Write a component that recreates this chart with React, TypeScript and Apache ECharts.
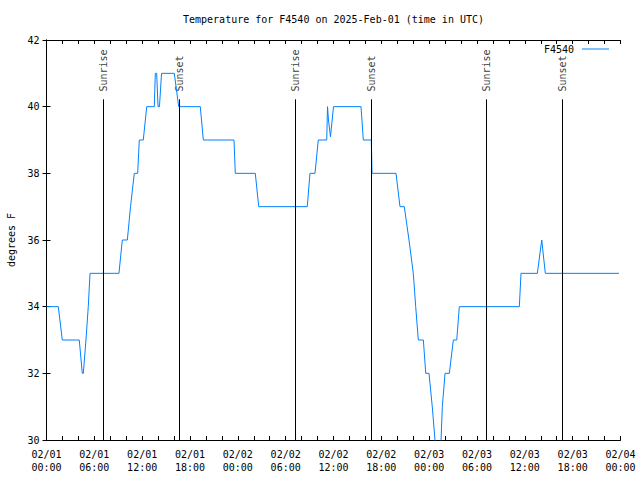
import { useEffect, useRef } from "react";
import * as echarts from "echarts";

// hours since 2025-02-01 00:00 UTC
const hours = [0, 1.48, 1.98, 4.11, 4.49, 4.62, 4.95, 5.24, 5.46, 9.09, 9.51, 10.14, 10.54, 11.01, 11.44, 11.64, 12.14, 12.57, 13.52, 13.65, 13.82, 13.99, 14.17, 14.43, 16.03, 16.58, 19.29, 19.67, 23.52, 23.68, 26.19, 26.62, 32.71, 33.05, 33.68, 34.09, 35.15, 35.25, 35.37, 35.62, 36.0, 39.45, 39.74, 40.74, 40.79, 40.83, 43.84, 44.34, 44.88, 45.47, 46.01, 46.31, 46.64, 47.27, 47.57, 47.98, 48.39, 48.73, 48.98, 49.3, 49.49, 49.65, 49.99, 50.53, 51.03, 51.46, 51.78, 59.31, 59.52, 61.57, 62.12, 62.57, 71.81];
const temps = [34, 34, 33, 33, 32, 32, 33, 34, 35, 35, 36, 36, 37, 38, 38, 39, 39, 40, 40, 41, 41, 40, 40, 41, 41, 40, 40, 39, 39, 38, 38, 37, 37, 38, 38, 39, 39, 40, 39.6, 39.1, 40, 40, 39, 39, 38.5, 38, 38, 37, 37, 36, 35, 34, 33, 33, 32, 32, 31, 30, 29.5, 29.5, 30, 31, 32, 32, 33, 33, 34, 34, 35, 35, 36, 35, 35];

const sunTimes = [7.12, 16.66, 31.26, 40.79, 55.22, 64.7];
const sunLabels = ["Sunrise", "Sunset", "Sunrise", "Sunset", "Sunrise", "Sunset"];
const SUN_LINE_TOP = 40.22;
const SUN_LABEL_BASE = 40.44;

const dayLabels = ["02/01", "02/01", "02/01", "02/01", "02/02", "02/02", "02/02", "02/02", "02/03", "02/03", "02/03", "02/03", "02/04"];
const timeLabels = ["00:00", "06:00", "12:00", "18:00", "00:00", "06:00", "12:00", "18:00", "00:00", "06:00", "12:00", "18:00", "00:00"];

const FONT = "DejaVu Sans Mono";

export default function App() {
  const ref = useRef<HTMLDivElement>(null);
  useEffect(() => {
    const chart = echarts.init(ref.current!, null, { renderer: "svg" });
    const xLabel = (v: number) => {
      if (Math.abs(v % 6) > 1e-6) return "";
      const i = Math.round(v / 6);
      return dayLabels[i] + "\n" + timeLabels[i];
    };
    const axisCommon = {
      axisLine: { show: true, lineStyle: { color: "#000", width: 1 } },
      axisTick: { show: true, inside: true, length: 4, lineStyle: { color: "#000" } },
      splitLine: { show: false },
    };
    chart.setOption({
      animation: false,
      backgroundColor: "#fff",
      textStyle: { fontFamily: FONT },
      graphic: [
        {
          type: "text",
          x: 333.5,
          y: 19,
          style: {
            text: "Temperature for F4540 on 2025-Feb-01 (time in UTC)",
            fontFamily: FONT,
            fontSize: 10,
            fill: "#000",
            textAlign: "center",
            textVerticalAlign: "middle",
          },
        },
      ],
      legend: {
        data: [{ name: "F4540", icon: "rect" }],
        right: 26,
        top: 39,
        align: "right",
        itemWidth: 27,
        itemHeight: 1,
        textStyle: { fontFamily: FONT, fontSize: 10, color: "#000", padding: [0, 3, 0, 0] },
      },
      grid: { left: 46.5, right: 19.5, top: 40, bottom: 40, containLabel: false, outerBoundsMode: "none" },
      xAxis: [
        {
          type: "value",
          min: 0,
          max: 72,
          interval: 2,
          position: "bottom",
          ...axisCommon,
          axisLabel: {
            formatter: xLabel,
            fontFamily: FONT,
            fontSize: 10,
            color: "#000",
            lineHeight: 13,
            margin: 8,
            showMinLabel: true,
            showMaxLabel: true,
          },
        },
        {
          type: "value",
          min: 0,
          max: 72,
          interval: 2,
          position: "top",
          ...axisCommon,
          axisLabel: { show: false },
        },
      ],
      yAxis: [
        {
          type: "value",
          min: 30,
          max: 42,
          interval: 2,
          position: "left",
          ...axisCommon,
          name: "degrees F",
          nameLocation: "middle",
          nameRotate: 90,
          nameGap: 30,
          nameTextStyle: { fontFamily: FONT, fontSize: 10, color: "#000" },
          axisLabel: { fontFamily: FONT, fontSize: 10, color: "#000", margin: 7 },
        },
        {
          type: "value",
          min: 30,
          max: 42,
          interval: 2,
          position: "right",
          ...axisCommon,
          axisLabel: { show: false },
        },
      ],
      series: [
        {
          name: "F4540",
          type: "line",
          xAxisIndex: 0,
          yAxisIndex: 0,
          symbol: "none",
          showSymbol: false,
          clip: true,
          lineStyle: { color: "#0080ff", width: 1 },
          itemStyle: { color: "#0080ff" },
          data: hours.map((h, i) => [h, temps[i]]),
          markLine: {
            silent: true,
            symbol: ["none", "none"],
            label: { show: false },
            lineStyle: { color: "#000", width: 1, type: "solid" },
            data: sunTimes.map((t) => [{ coord: [t, 30] }, { coord: [t, SUN_LINE_TOP] }]),
          },
        },
        {
          name: "sun",
          type: "scatter",
          xAxisIndex: 0,
          yAxisIndex: 0,
          symbolSize: 1,
          silent: true,
          itemStyle: { color: "rgba(0,0,0,0)" },
          data: sunTimes.map((t, i) => [t, SUN_LABEL_BASE, sunLabels[i]]),
          label: {
            show: true,
            position: [0.5, 0],
            rotate: 90,
            align: "left",
            verticalAlign: "middle",
            formatter: (p: any) => p.data[2],
            fontFamily: FONT,
            fontSize: 10,
            color: "#000",
          },
        },
      ],
    });
    return () => chart.dispose();
  }, []);
  return <div ref={ref} style={{ position: "fixed", left: 0, top: 0, width: 640, height: 480 }} />;
}
